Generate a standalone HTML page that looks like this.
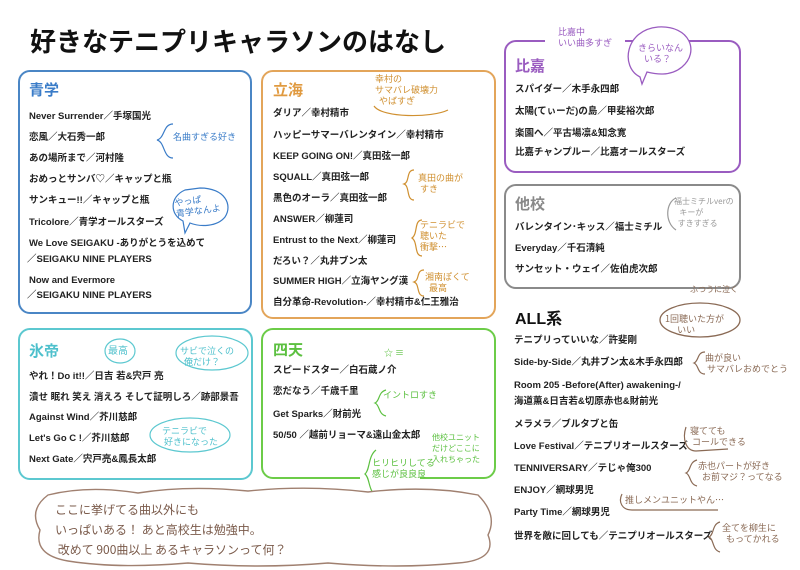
<!DOCTYPE html>
<html><head><meta charset="utf-8"><style>
*{margin:0;padding:0;box-sizing:border-box}
body{width:800px;height:570px;background:#fff;position:relative;overflow:hidden;font-family:"Liberation Sans","Noto Sans CJK JP",sans-serif;color:#222}
.a{position:absolute;white-space:nowrap}
.box{position:absolute;border:2px solid;border-radius:12px}
.i{position:absolute;white-space:nowrap;font-size:9.5px;font-weight:bold;line-height:12px;color:#222}
.h{position:absolute;font-size:15px;font-weight:bold}
.n{position:absolute;white-space:nowrap;font-size:9px;line-height:11px;font-family:"Noto Sans CJK JP",sans-serif}
svg.b{position:absolute;overflow:visible}
</style></head><body>
<div class="a" style="left:30px;top:22px;font-size:26px;font-weight:bold;color:#111;letter-spacing:0px">好きなテニプリキャラソンのはなし</div>

<div class="box" style="left:18px;top:70px;width:234px;height:244px;border-color:#4a86c5"></div>
<div class="h" style="left:29px;top:79px;color:#3a7cc8">青学</div>
<div class="i" style="left:29px;top:111px">Never Surrender／手塚国光</div>
<div class="i" style="left:29px;top:132px">恋風／大石秀一郎</div>
<div class="i" style="left:29px;top:153px">あの場所まで／河村隆</div>
<div class="i" style="left:29px;top:174px">おめっとサンバ♡／キャップと瓶</div>
<div class="i" style="left:29px;top:195px">サンキュー!!／キャップと瓶</div>
<div class="i" style="left:29px;top:217px">Tricolore／青学オールスターズ</div>
<div class="i" style="left:29px;top:238px">We Love SEIGAKU -ありがとうを込めて</div>
<div class="i" style="left:27px;top:254px">／SEIGAKU NINE PLAYERS</div>
<div class="i" style="left:29px;top:275px">Now and Evermore</div>
<div class="i" style="left:27px;top:290px">／SEIGAKU NINE PLAYERS</div>
<svg class="b" style="left:155px;top:122px" width="20" height="40"><path d="M18 2 C8 2 10 16 2 18 C10 20 8 36 18 36" fill="none" stroke="#3a7cc8" stroke-width="1.2"/></svg>
<div class="n" style="left:173px;top:131px;color:#3a7cc8">名曲すぎる好き</div>
<svg class="b" style="left:165px;top:185px" width="70" height="50"><path d="M35 3 C60 3 68 20 60 32 C52 42 35 42 25 38 L20 48 L18 36 C5 30 4 12 20 5 Z" fill="none" stroke="#3a7cc8" stroke-width="1.2"/></svg>
<div class="n" style="left:175px;top:194px;color:#3a7cc8;transform:rotate(-8deg)">やっぱ<br>青学なんよ</div>

<div class="box" style="left:261px;top:70px;width:235px;height:249px;border-color:#e3a55a"></div>
<div class="h" style="left:273px;top:79px;color:#e09a40">立海</div>
<div class="i" style="left:273px;top:108px">ダリア／幸村精市</div>
<div class="i" style="left:273px;top:130px">ハッピーサマーバレンタイン／幸村精市</div>
<div class="i" style="left:273px;top:151px">KEEP GOING ON!／真田弦一郎</div>
<div class="i" style="left:273px;top:172px">SQUALL／真田弦一郎</div>
<div class="i" style="left:273px;top:193px">黒色のオーラ／真田弦一郎</div>
<div class="i" style="left:273px;top:214px">ANSWER／柳蓮司</div>
<div class="i" style="left:273px;top:235px">Entrust to the Next／柳蓮司</div>
<div class="i" style="left:273px;top:256px">だろい？／丸井ブン太</div>
<div class="i" style="left:273px;top:276px">SUMMER HIGH／立海ヤング漢</div>
<div class="i" style="left:273px;top:297px">自分革命-Revolution-／幸村精市&amp;仁王雅治</div>
<div class="n" style="left:375px;top:73px;color:#d09030">幸村の<br>サマバレ破壊力<br>&nbsp;&nbsp;やばすぎ</div>
<svg class="b" style="left:372px;top:104px" width="80" height="20"><path d="M2 2 C10 14 60 14 76 6" fill="none" stroke="#d09030" stroke-width="1.2"/></svg>
<svg class="b" style="left:402px;top:168px" width="14" height="34"><path d="M12 2 C4 2 8 14 2 16 C8 18 4 32 12 32" fill="none" stroke="#d09030" stroke-width="1.2"/></svg>
<div class="n" style="left:418px;top:172px;color:#d09030">真田の曲が<br>&nbsp;すき</div>
<svg class="b" style="left:410px;top:218px" width="14" height="40"><path d="M12 2 C4 2 8 16 2 20 C8 24 4 38 12 38" fill="none" stroke="#d09030" stroke-width="1.2"/></svg>
<div class="n" style="left:420px;top:219px;color:#d09030">テニラビで<br>聴いた<br>衝撃…</div>
<svg class="b" style="left:412px;top:268px" width="14" height="30"><path d="M12 2 C4 2 8 12 2 14 C8 16 4 28 12 28" fill="none" stroke="#d09030" stroke-width="1.2"/></svg>
<div class="n" style="left:425px;top:271px;color:#d09030">湘南ぽくて<br>&nbsp;&nbsp;最高</div>

<div class="box" style="left:504px;top:40px;width:237px;height:133px;border-color:#9a5cc0"></div>
<div style="position:absolute;left:545px;top:36px;width:80px;height:6px;background:#fff"></div>
<div class="h" style="left:515px;top:55px;color:#9a5cc0">比嘉</div>
<div class="i" style="left:515px;top:84px">スパイダー／木手永四郎</div>
<div class="i" style="left:515px;top:106px">太陽(てぃーだ)の島／甲斐裕次郎</div>
<div class="i" style="left:515px;top:128px">楽園へ／平古場凛&amp;知念寛</div>
<div class="i" style="left:515px;top:147px">比嘉チャンプルー／比嘉オールスターズ</div>
<div class="n" style="left:558px;top:26px;color:#9a5cc0">比嘉中<br>いい曲多すぎ</div>
<svg style="position:absolute;left:620px;top:22px" width="80" height="68"><path d="M20 55 C0 45 5 8 38 5 C70 3 80 30 62 45 C50 55 35 52 27 50 L22 62 Z" fill="#fff" stroke="#9a5cc0" stroke-width="1.3"/></svg>
<div class="n" style="left:638px;top:42px;color:#9a5cc0">きらいなん<br>&nbsp;&nbsp;&nbsp;いる？</div>

<div class="box" style="left:504px;top:184px;width:237px;height:105px;border-color:#8a8a8a"></div>
<div class="h" style="left:515px;top:193px;color:#888">他校</div>
<div class="i" style="left:515px;top:222px">バレンタイン･キッス／福士ミチル</div>
<div class="i" style="left:515px;top:243px">Everyday／千石清純</div>
<div class="i" style="left:515px;top:264px">サンセット・ウェイ／佐伯虎次郎</div>
<svg class="b" style="left:664px;top:196px" width="14" height="36"><path d="M12 2 C2 6 0 26 12 34" fill="none" stroke="#999" stroke-width="1.2"/></svg>
<div class="n" style="left:674px;top:196px;color:#999;font-size:8px">福士ミチルverの<br>&nbsp;&nbsp;&nbsp;キーが<br>&nbsp;&nbsp;すきすぎる</div>
<div class="n" style="left:690px;top:284px;color:#8a6a55;font-size:8px">ふつうに泣く</div>

<div class="h" style="left:515px;top:305px;color:#111;font-size:16px">ALL系</div>
<svg style="position:absolute;left:655px;top:300px" width="90" height="45"><ellipse cx="45" cy="20" rx="40" ry="17" fill="none" stroke="#8a6a55" stroke-width="1.3"/></svg>
<div class="n" style="left:665px;top:313px;color:#8a6a55">1回聴いた方が<br>&nbsp;&nbsp;&nbsp;&nbsp;&nbsp;&nbsp;いい</div>
<div class="i" style="left:514px;top:335px">テニプリっていいな／許斐剛</div>
<div class="i" style="left:514px;top:357px">Side-by-Side／丸井ブン太&amp;木手永四郎</div>
<div class="i" style="left:514px;top:380px">Room 205 -Before(After) awakening-/</div>
<div class="i" style="left:514px;top:396px">海道薫&amp;日吉若&amp;切原赤也&amp;財前光</div>
<div class="i" style="left:514px;top:419px">メラメラ／ブルタブと缶</div>
<div class="i" style="left:514px;top:441px">Love Festival／テニプリオールスターズ</div>
<div class="i" style="left:514px;top:463px">TENNIVERSARY／テじゃ俺300</div>
<div class="i" style="left:514px;top:485px">ENJOY／網球男児</div>
<div class="i" style="left:514px;top:507px">Party Time／網球男児</div>
<div class="i" style="left:514px;top:531px">世界を敵に回しても／テニプリオールスターズ</div>
<svg class="b" style="left:693px;top:350px" width="14" height="26"><path d="M12 2 C4 2 6 11 1 13 C6 15 4 24 12 24" fill="none" stroke="#8a6a55" stroke-width="1.2"/></svg>
<div class="n" style="left:705px;top:352px;color:#8a6a55">曲が良い<br>&nbsp;サマバレおめでとう</div>
<svg class="b" style="left:682px;top:425px" width="50" height="30"><path d="M4 2 C0 14 4 26 14 26 L46 24" fill="none" stroke="#8a6a55" stroke-width="1.2"/></svg>
<div class="n" style="left:690px;top:425px;color:#8a6a55">寝てても<br>&nbsp;コールできる</div>
<svg class="b" style="left:685px;top:458px" width="14" height="30"><path d="M12 2 C4 4 6 13 1 15 C6 17 4 26 12 28" fill="none" stroke="#8a6a55" stroke-width="1.2"/></svg>
<div class="n" style="left:698px;top:460px;color:#8a6a55">赤也パートが好き<br>&nbsp;&nbsp;お前マジ？ってなる</div>
<svg class="b" style="left:618px;top:492px" width="110" height="20"><path d="M4 2 C0 10 4 18 14 18 L100 18" fill="none" stroke="#8a6a55" stroke-width="1.2"/></svg>
<div class="n" style="left:625px;top:494px;color:#8a6a55">推しメンユニットやん…</div>
<svg class="b" style="left:708px;top:520px" width="14" height="34"><path d="M12 2 C4 4 6 15 1 17 C6 19 4 30 12 32" fill="none" stroke="#8a6a55" stroke-width="1.2"/></svg>
<div class="n" style="left:722px;top:522px;color:#8a6a55">全てを柳生に<br>&nbsp;&nbsp;もってかれる</div>

<div class="box" style="left:18px;top:328px;width:235px;height:152px;border-color:#5cc8d0"></div>
<div class="h" style="left:29px;top:340px;color:#4ec0cc">氷帝</div>
<div class="i" style="left:29px;top:371px">やれ！Do it!!／日吉 若&amp;宍戸 亮</div>
<div class="i" style="left:29px;top:392px">潰せ 眠れ 笑え 消えろ そして証明しろ／跡部景吾</div>
<div class="i" style="left:29px;top:412px">Against Wind／芥川慈郎</div>
<div class="i" style="left:29px;top:433px">Let's Go C !／芥川慈郎</div>
<div class="i" style="left:29px;top:454px">Next Gate／宍戸亮&amp;鳳長太郎</div>
<svg style="position:absolute;left:100px;top:335px" width="150" height="130"><ellipse cx="20" cy="16" rx="15" ry="12" fill="#fff" stroke="#5cc8d0" stroke-width="1.2"/><ellipse cx="112" cy="18" rx="36" ry="17" fill="#fff" stroke="#5cc8d0" stroke-width="1.2"/><ellipse cx="90" cy="100" rx="40" ry="17" fill="#fff" stroke="#5cc8d0" stroke-width="1.2"/></svg>
<div class="n" style="left:108px;top:344px;color:#4ec0cc;font-size:10px">最高</div>
<div class="n" style="left:180px;top:345px;color:#4ec0cc">サビで泣くの<br>&nbsp;&nbsp;俺だけ？</div>
<div class="n" style="left:162px;top:425px;color:#4ec0cc">テニラビで<br>&nbsp;好きになった</div>

<div class="box" style="left:261px;top:328px;width:235px;height:151px;border-color:#6ccc48"></div>
<div class="h" style="left:273px;top:339px;color:#5cc040">四天</div>
<div class="n" style="left:384px;top:347px;color:#5cc040">☆ ≡</div>
<div class="i" style="left:273px;top:365px">スピードスター／白石蔵ノ介</div>
<div class="i" style="left:273px;top:386px">恋だなう／千歳千里</div>
<div class="i" style="left:273px;top:409px">Get Sparks／財前光</div>
<div class="i" style="left:273px;top:430px">50/50 ／越前リョーマ&amp;遠山金太郎</div>
<svg class="b" style="left:374px;top:388px" width="14" height="30"><path d="M12 2 C4 4 6 13 1 15 C6 17 4 26 12 28" fill="none" stroke="#5cc040" stroke-width="1.2"/></svg>
<div class="n" style="left:383px;top:389px;color:#5cc040">イントロすき</div>
<div class="n" style="left:432px;top:432px;color:#5cc040;font-size:8px">他校ユニット<br>だけどここに<br>入れちゃった</div>
<div style="position:absolute;left:360px;top:474px;width:60px;height:8px;background:#fff"></div>
<svg class="b" style="left:364px;top:448px" width="14" height="50"><path d="M12 2 C4 8 6 22 1 26 C6 30 4 42 12 48" fill="none" stroke="#5cc040" stroke-width="1.2"/></svg>
<div class="n" style="left:372px;top:457px;color:#5cc040">ヒリヒリしてる<br>感じが良良良</div>

<svg style="position:absolute;left:28px;top:485px" width="475" height="85"><path d="M20 10 Q60 0 110 8 Q160 0 220 6 Q280 0 340 7 Q400 0 450 10 Q470 30 460 50 Q470 75 430 78 Q370 84 300 78 Q230 84 160 78 Q90 84 40 76 Q5 70 12 45 Q0 25 20 10 Z" fill="#fff" stroke="#a08070" stroke-width="1.4"/></svg>
<div class="n" style="left:55px;top:500px;color:#7a5a4a;font-size:12px;line-height:20px">ここに挙げてる曲以外にも<br>いっぱいある！ あと高校生は勉強中。<br>&nbsp;改めて 900曲以上 あるキャラソンって何？</div>
</body></html>
